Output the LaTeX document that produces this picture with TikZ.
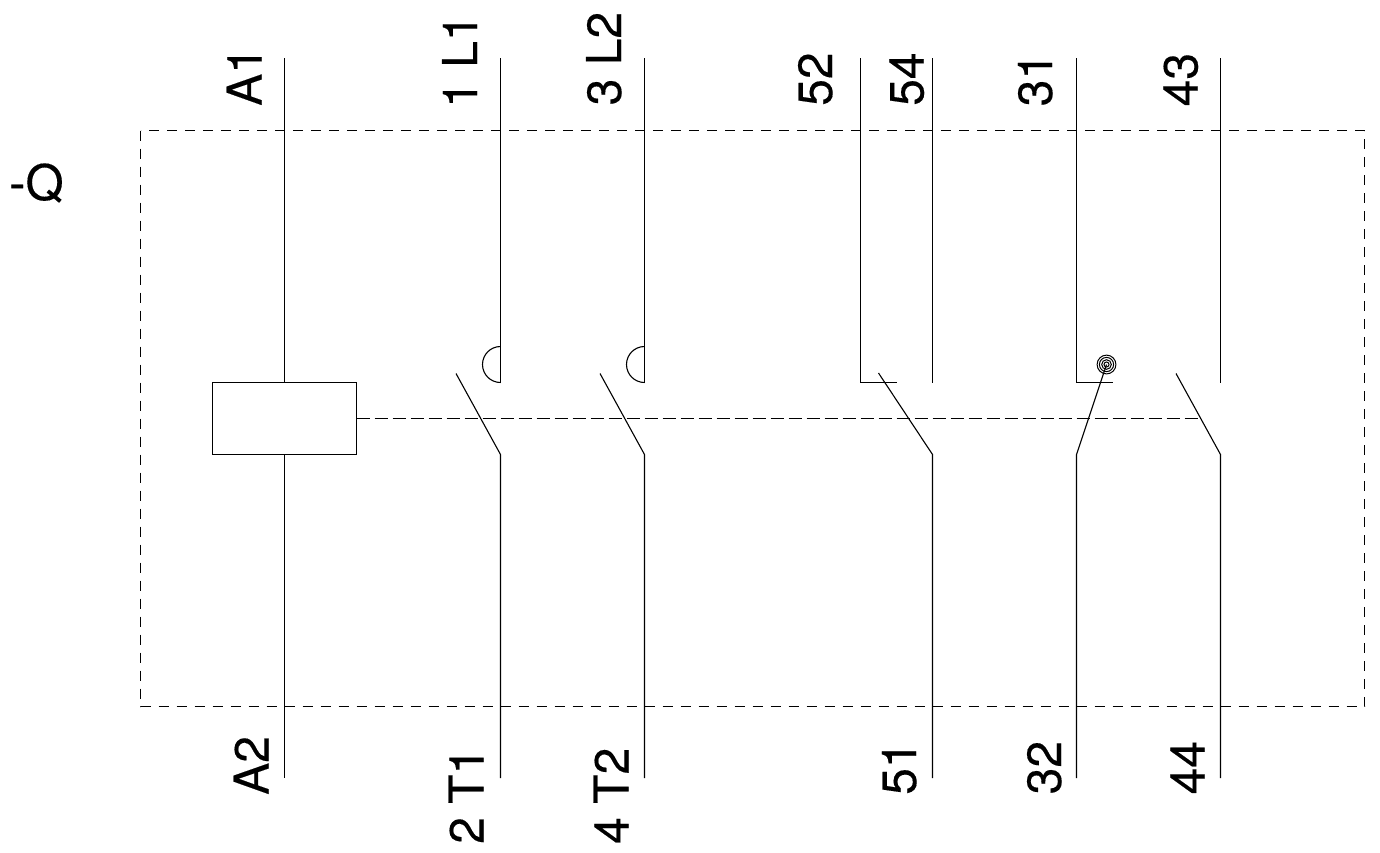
\documentclass[tikz,border=0pt]{standalone}
\usepackage{fontspec}
\setmainfont{TeX Gyre Heros}
\newfontfamily\labfont[FakeBold=0.25]{TeX Gyre Heros}
\begin{document}
\begin{tikzpicture}[x=1pt,y=-1pt,
  wire/.style={line width=1.1pt,line cap=butt,black},
  ddash/.style={line width=1.1pt,black,dash pattern=on 10pt off 8pt},
  link/.style={line width=1.1pt,black,dash pattern=on 13pt off 5pt},
  lab/.style={rotate=90,anchor=base west,inner sep=0pt,font=\labfont\fontsize{48}{48}\selectfont}]
\useasboundingbox (0,0) rectangle (1380,852);
\fill[white] (0,0) rectangle (1380,852);
% enclosure
\node[rectangle,outer sep=0pt,inner sep=0pt,minimum width=1224pt,minimum height=576pt,anchor=north west] (frame) at (140.5,130.5) {};
\draw[ddash] (frame.north west) -- (frame.south west) -- (frame.south east) -- (frame.north east) -- cycle;
% coil
\node[draw,wire,rectangle,outer sep=0pt,inner sep=0pt,minimum width=144pt,minimum height=72pt,anchor=north west] (coil) at (212.5,382.5) {};
% terminals
\coordinate (ta1) at (284.5,58);
\coordinate (ta2) at (284.5,778);
\draw[wire] (ta1) -- (ta1 |- coil.north);
\draw[wire] (ta2 |- coil.south) -- (ta2);
% main pole 1
\coordinate (l1t) at (500.5,58);
\coordinate (l1c) at (500.5,382.5);
\coordinate (l1m) at (500.5,454.5);
\coordinate (l1b) at (500.5,778);
\coordinate (l1e) at (456,373.5);
\draw[wire] (l1t) -- (l1c);
\draw[wire] (l1c) arc[start angle=90,end angle=270,radius=18];
\draw[wire] (l1e) -- (l1m) -- (l1b);
% main pole 2
\coordinate (l2t) at (644.5,58);
\coordinate (l2c) at (644.5,382.5);
\coordinate (l2m) at (644.5,454.5);
\coordinate (l2b) at (644.5,778);
\coordinate (l2e) at (600,373.5);
\draw[wire] (l2t) -- (l2c);
\draw[wire] (l2c) arc[start angle=90,end angle=270,radius=18];
\draw[wire] (l2e) -- (l2m) -- (l2b);
% changeover 52/54/51
\coordinate (c52t) at (860.5,58);
\coordinate (c52c) at (860.5,382.5);
\coordinate (c52f) at (896.5,382.5);
\coordinate (c54t) at (932.5,58);
\coordinate (c54c) at (932.5,382.5);
\coordinate (c51m) at (932.5,454.5);
\coordinate (c51b) at (932.5,778);
\coordinate (c51e) at (878.5,373);
\draw[wire] (c52t) -- (c52c) -- (c52f);
\draw[wire] (c54t) -- (c54c);
\draw[wire] (c51e) -- (c51m) -- (c51b);
% 31/32 with spiral
\coordinate (c31t) at (1076.5,58);
\coordinate (c31c) at (1076.5,382.5);
\coordinate (c31f) at (1112.5,382.5);
\coordinate (c32m) at (1076.5,454.5);
\coordinate (c32b) at (1076.5,778);
\coordinate (spr) at (1106.5,364.5);
\draw[wire] (c31t) -- (c31c) -- (c31f);
\draw[wire] (spr) -- (c32m) -- (c32b);
\foreach \r in {2.5,4.8,7.1,9.4}{\draw[line width=1pt,black] (spr) circle[radius=\r];}
% 43/44
\coordinate (c43t) at (1220.5,58);
\coordinate (c43c) at (1220.5,382.5);
\coordinate (c44m) at (1220.5,454.5);
\coordinate (c44b) at (1220.5,778);
\coordinate (c44e) at (1176,373.5);
\draw[wire] (c43t) -- (c43c);
\draw[wire] (c44e) -- (c44m) -- (c44b);
% mechanical link
\coordinate (lnk) at (1197.5,418.5);
\draw[link] (coil.east) -- (coil.east -| lnk);
% labels
\node[lab] (la1) at (261.5,106) {A1};
\node[lab] (ll1) at (477,108) {1 L1};
\node[lab] (ll2) at (621,105.5) {3 L2};
\node[lab] (l52) at (832,106) {52};
\node[lab] (l54) at (923.5,106) {54};
\node[lab] (l31) at (1052,106.5) {31};
\node[lab] (l43) at (1197.5,106.5) {43};
\node[lab] (la2) at (268.5,795) {A2};
\node[lab] (lt1) at (483.5,844) {2 T1};
\node[lab] (lt2) at (628.5,844) {4 T2};
\node[lab] (l51) at (916,795) {51};
\node[lab] (l32) at (1061,794.5) {32};
\node[lab] (l44) at (1204.5,794.5) {44};
\node[anchor=base west,inner sep=0pt,font=\labfont\fontsize{49}{49}\selectfont] (q) at (9,200) {-Q};
\end{tikzpicture}
\end{document}
